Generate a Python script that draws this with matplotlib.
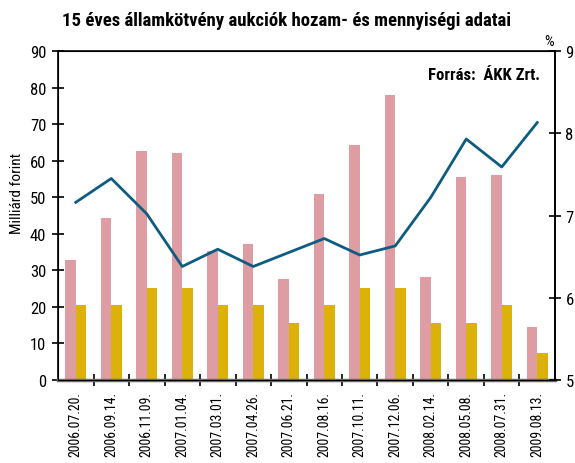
import numpy as np
import matplotlib.pyplot as plt

plt.rcParams['font.family'] = ['Roboto Condensed', 'DejaVu Sans']

dates = ["2006.07.20.", "2006.09.14.", "2006.11.09.", "2007.01.04.", "2007.03.01.",
         "2007.04.26.", "2007.06.21.", "2007.08.16.", "2007.10.11.", "2007.12.06.",
         "2008.02.14.", "2008.05.08.", "2008.07.31.", "2009.08.13."]
demand = [32.8, 44.3, 62.6, 62.1, 35.3, 37.2, 27.6, 50.8, 64.3, 78.0, 28.2, 55.5, 56.1, 14.5]
accepted = [20.5, 20.5, 25.2, 25.2, 20.5, 20.5, 15.6, 20.5, 25.2, 25.2, 15.6, 15.6, 20.5, 7.4]
yields = [7.16, 7.45, 7.02, 6.38, 6.59, 6.38, 6.55, 6.72, 6.52, 6.63, 7.22, 7.93, 7.59, 8.13]

x = np.arange(len(dates))
w = 0.3

fig = plt.figure(figsize=(5.75, 4.64), dpi=100)
ax = fig.add_axes([0.1009, 0.1789, 0.8643, 0.709])
ax.bar(x - w / 2, demand, w, color="#de9ca3", zorder=2)
ax.bar(x + w / 2, accepted, w, color="#dcb10a", zorder=2)
ax.set_xlim(-0.5, len(dates) - 0.5)
ax.set_ylim(0, 90)
ax.set_yticks(np.arange(0, 91, 10))
ax.set_xticks(x)
ax.set_xticklabels(dates, rotation=90, fontsize=10)
ax.set_xticks(np.arange(0.5, len(dates) - 1, 1), minor=True)
ax.tick_params(axis="x", which="major", length=0, pad=8)
ax.tick_params(axis="x", which="minor", length=9, direction="inout", width=1.2)
ax.tick_params(axis="y", length=9, direction="inout", width=1.2, labelsize=12, pad=4)
ax.set_ylabel("Milliárd forint", fontsize=11)
ax.yaxis.set_label_coords(-0.068, 0.57)
ax.spines["bottom"].set_color("#6e6e6e")
ax.spines["bottom"].set_linewidth(2.5)
ax.spines["bottom"].set_zorder(5)
for s in ("top", "left", "right"):
    ax.spines[s].set_linewidth(1.2)

ax2 = ax.twinx()
ax2.plot(x, yields, color="#0e5c82", lw=2, zorder=3)
ax2.set_ylim(5, 9)
ax2.set_yticks([5, 6, 7, 8, 9])
ax2.tick_params(axis="y", length=9, direction="inout", width=1.2, labelsize=12, pad=3)
ax2.spines["right"].set_linewidth(1.2)

fig.text(0.108, 0.955, "15 éves államkötvény aukciók hozam- és mennyiségi adatai",
         fontsize=13.5, fontweight="bold", va="center")
fig.text(0.955, 0.91, "%", fontsize=11, ha="center", va="center")
ax.text(0.97, 0.93, "Forrás:  ÁKK Zrt.", transform=ax.transAxes, fontsize=12,
        fontweight="bold", ha="right", va="center")

fig.savefig("out.png", dpi=100)
